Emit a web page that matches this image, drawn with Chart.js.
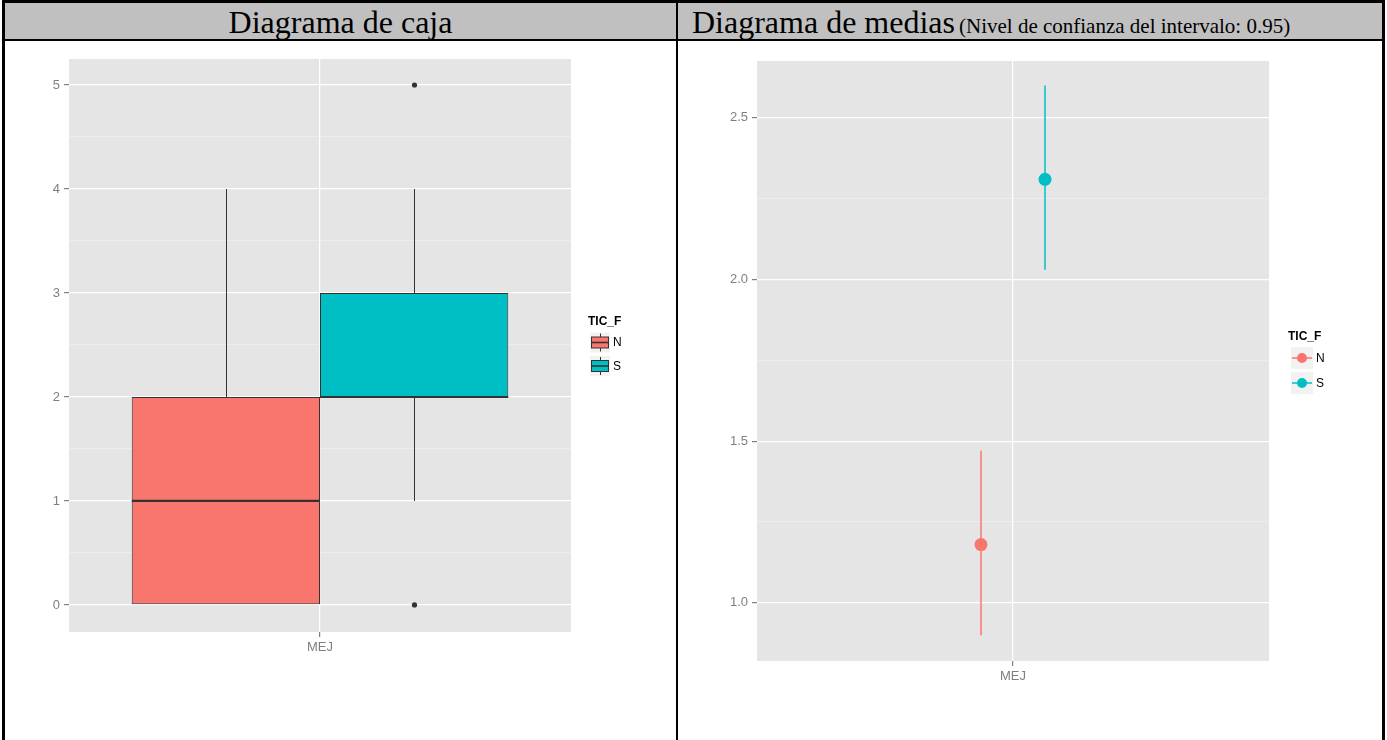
<!DOCTYPE html>
<html>
<head>
<meta charset="utf-8">
<script src="https://cdn.jsdelivr.net/npm/chart.js@4.4.1/dist/chart.umd.min.js"></script>
<style>
  body { margin: 0; background: #fff; }
  #page { position: relative; width: 1387px; height: 740px; overflow: hidden; background: #fff; }
  .rule { position: absolute; background: #000; z-index: 2; }
  .head { position: absolute; top: 3px; height: 36px; background: #c0c0c0; color: #000;
          font-family: "Liberation Serif", "Times New Roman", serif; white-space: nowrap; }
  .head span.big { font-size: 32px; position: relative; top: 1px; line-height: 36px; }
  .head span.small { font-size: 21px; position: relative; top: 1px; }
  canvas { position: absolute; top: 42px; }
</style>
</head>
<body>
<div id="page">
  <div class="head" style="left:5px; width:671px; text-align:center;"><span class="big">Diagrama de caja</span></div>
  <div class="head" style="left:678px; width:704px; padding-left:14px; box-sizing:border-box;"><span class="big">Diagrama de medias</span> <span class="small">(Nivel de confianza del intervalo: 0.95)</span></div>

  <div class="rule" style="left:2px; top:0; width:1383px; height:3px;"></div>
  <div class="rule" style="left:2px; top:39px; width:1383px; height:2px;"></div>
  <div class="rule" style="left:2px; top:0; width:3px; height:740px;"></div>
  <div class="rule" style="left:676px; top:0; width:2px; height:740px;"></div>
  <div class="rule" style="left:1382px; top:0; width:3px; height:740px;"></div>

  <canvas id="caja" width="671" height="698" style="left:5px;"></canvas>
  <canvas id="medias" width="703" height="698" style="left:679px;"></canvas>
</div>

<script>
const categories = ['MEJ'];
const groups = ['N', 'S'];
const legendTitle = 'TIC_F';
const groupColors = ['#F8766D', '#00BFC4'];

// caja: bigotes, cuartiles y mediana por grupo
const boxLower = [0, 1];
const boxQ1 = [0, 2];
const boxMedian = [1, 2];
const boxQ3 = [2, 3];
const boxUpper = [4, 4];
const boxOutliers = [[], [0, 5]];
const boxTicks = [0, 1, 2, 3, 4, 5];

// medias e intervalo de confianza
const meanValues = [1.18, 2.31];
const ciLower = [0.90, 2.03];
const ciUpper = [1.47, 2.60];
const meanTicks = [1.0, 1.5, 2.0, 2.5];

const dodge = [-0.075, 0.075];
const sans = '"Liberation Sans", Arial, sans-serif';

function isMajor(list, v) {
  return list.some(m => Math.abs(m - v) < 1e-6);
}

function ggGrid(list) {
  return {
    offset: false,
    tickLength: 5,
    color: c => (c.tick && isMajor(list, c.tick.value)) ? '#ffffff' : '#f2f2f2',
    lineWidth: c => (c.tick && isMajor(list, c.tick.value)) ? 1.2 : 0.6,
    tickColor: c => (c.tick && isMajor(list, c.tick.value)) ? '#7f7f7f' : 'rgba(0,0,0,0)'
  };
}

const tickFont = { family: sans, size: 13 };

// fondo gris del panel
const panelBg = {
  id: 'panelBg',
  beforeDraw(chart) {
    const a = chart.chartArea, ctx = chart.ctx;
    ctx.save();
    ctx.fillStyle = '#e5e5e5';
    ctx.fillRect(a.left, a.top, a.right - a.left, a.bottom - a.top);
    ctx.restore();
  }
};

// bigotes, mediana y atipicos sobre las cajas
const boxWhiskers = {
  id: 'boxWhiskers',
  afterDatasetsDraw(chart) {
    const ctx = chart.ctx, y = chart.scales.y;
    ctx.save();
    ctx.strokeStyle = '#333333';
    ctx.fillStyle = '#333333';
    groups.forEach((g, i) => {
      const bar = chart.getDatasetMeta(i).data[0];
      const x = Math.round(bar.x) + 0.5, half = bar.width / 2;
      ctx.lineWidth = 1;
      ctx.beginPath();
      ctx.moveTo(x, y.getPixelForValue(boxQ3[i]));
      ctx.lineTo(x, y.getPixelForValue(boxUpper[i]));
      ctx.moveTo(x, y.getPixelForValue(boxQ1[i]));
      ctx.lineTo(x, y.getPixelForValue(boxLower[i]));
      ctx.stroke();
      ctx.lineWidth = 2.2;
      ctx.beginPath();
      ctx.moveTo(bar.x - half, y.getPixelForValue(boxMedian[i]));
      ctx.lineTo(bar.x + half, y.getPixelForValue(boxMedian[i]));
      ctx.stroke();
      boxOutliers[i].forEach(v => {
        ctx.beginPath();
        ctx.arc(x, y.getPixelForValue(v), 2.6, 0, Math.PI * 2);
        ctx.fill();
      });
    });
    ctx.restore();
  }
};

// leyenda al estilo ggplot
const ggLegend = {
  id: 'ggLegend',
  afterDraw(chart, args, o) {
    const ctx = chart.ctx, a = chart.chartArea;
    const mid = (a.top + a.bottom) / 2;
    ctx.save();
    ctx.textBaseline = 'middle';
    ctx.fillStyle = '#000';
    ctx.font = 'bold 12px ' + sans;
    ctx.fillText(legendTitle, a.right + o.titleX, mid + o.titleDy);
    groups.forEach((g, i) => {
      const kx = a.right + o.keyX, ky = mid + o.keyDy + i * o.step, k = o.key;
      ctx.fillStyle = '#f2f2f2';
      ctx.fillRect(kx, ky, k, k);
      const cx = kx + k / 2, cy = ky + k / 2;
      if (o.kind === 'box') {
        ctx.strokeStyle = '#333333';
        ctx.lineWidth = 1;
        ctx.beginPath();
        ctx.moveTo(Math.round(cx) + 0.5, ky + 1);
        ctx.lineTo(Math.round(cx) + 0.5, ky + k - 1);
        ctx.stroke();
        ctx.fillStyle = groupColors[i];
        ctx.fillRect(kx + 1.5, ky + 4.5, k - 3, k - 9);
        ctx.strokeRect(kx + 1.5, ky + 4.5, k - 3, k - 9);
        ctx.lineWidth = 1.6;
        ctx.beginPath();
        ctx.moveTo(kx + 1.5, cy);
        ctx.lineTo(kx + k - 1.5, cy);
        ctx.stroke();
      } else {
        ctx.strokeStyle = groupColors[i];
        ctx.fillStyle = groupColors[i];
        ctx.lineWidth = 1.5;
        ctx.beginPath();
        ctx.moveTo(kx + 1, cy);
        ctx.lineTo(kx + k - 1, cy);
        ctx.stroke();
        ctx.beginPath();
        ctx.arc(cx, cy, 5, 0, Math.PI * 2);
        ctx.fill();
      }
      ctx.fillStyle = '#000';
      ctx.font = '12px ' + sans;
      ctx.fillText(g, kx + k + 3, cy + 0.5);
    });
    ctx.restore();
  }
};

new Chart(document.getElementById('caja'), {
  type: 'bar',
  data: {
    labels: categories,
    datasets: groups.map((g, i) => ({
      label: g,
      data: [[boxQ1[i], boxQ3[i]]],
      backgroundColor: groupColors[i],
      borderColor: '#333333',
      borderWidth: 1,
      borderSkipped: false,
      categoryPercentage: 0.75,
      barPercentage: 1
    }))
  },
  options: {
    responsive: false,
    animation: false,
    events: [],
    layout: { padding: { left: 24, top: 17, right: 105, bottom: 78 } },
    plugins: {
      legend: { display: false },
      tooltip: { enabled: false },
      ggLegend: { titleX: 17, titleDy: -24, keyX: 19, keyDy: -13, step: 23.5, key: 20, kind: 'box' }
    },
    scales: {
      x: {
        grid: ggGrid([0]),
        border: { display: false },
        ticks: { color: '#7f7f7f', font: tickFont, padding: 3 },
        afterFit: s => { s.height = 30; }
      },
      y: {
        min: -0.26,
        max: 5.25,
        grid: ggGrid(boxTicks),
        border: { display: false },
        ticks: {
          stepSize: 0.5,
          includeBounds: false,
          color: '#7f7f7f',
          font: tickFont,
          padding: 4,
          callback: v => isMajor(boxTicks, v) ? String(Math.round(v)) : ''
        },
        afterFit: s => { s.width = 40; }
      }
    }
  },
  plugins: [panelBg, boxWhiskers, ggLegend]
});

new Chart(document.getElementById('medias'), {
  type: 'scatter',
  data: {
    datasets: groups.map((g, i) => ({
      label: g,
      data: [
        { x: dodge[i], y: ciLower[i] },
        { x: dodge[i], y: meanValues[i] },
        { x: dodge[i], y: ciUpper[i] }
      ],
      showLine: true,
      borderColor: groupColors[i],
      backgroundColor: groupColors[i],
      borderWidth: 1.5,
      pointRadius: c => c.dataIndex === 1 ? 6.5 : 0,
      pointBorderWidth: 0
    }))
  },
  options: {
    responsive: false,
    animation: false,
    events: [],
    layout: { padding: { left: 34, top: 19, right: 113, bottom: 49 } },
    plugins: {
      legend: { display: false },
      tooltip: { enabled: false },
      ggLegend: { titleX: 19, titleDy: -24.5, keyX: 22, keyDy: -14, step: 25, key: 22, kind: 'point' }
    },
    scales: {
      x: {
        type: 'linear',
        min: -0.6,
        max: 0.6,
        afterBuildTicks: s => { s.ticks = [{ value: 0 }]; },
        grid: ggGrid([0]),
        border: { display: false },
        ticks: { color: '#7f7f7f', font: tickFont, padding: 3, callback: () => categories[0] },
        afterFit: s => { s.height = 30; }
      },
      y: {
        min: 0.82,
        max: 2.676,
        grid: ggGrid(meanTicks),
        border: { display: false },
        ticks: {
          stepSize: 0.25,
          includeBounds: false,
          color: '#7f7f7f',
          font: tickFont,
          padding: 4,
          callback: v => isMajor(meanTicks, v) ? v.toFixed(1) : ''
        },
        afterFit: s => { s.width = 44; }
      }
    }
  },
  plugins: [panelBg, ggLegend]
});
</script>
</body>
</html>
